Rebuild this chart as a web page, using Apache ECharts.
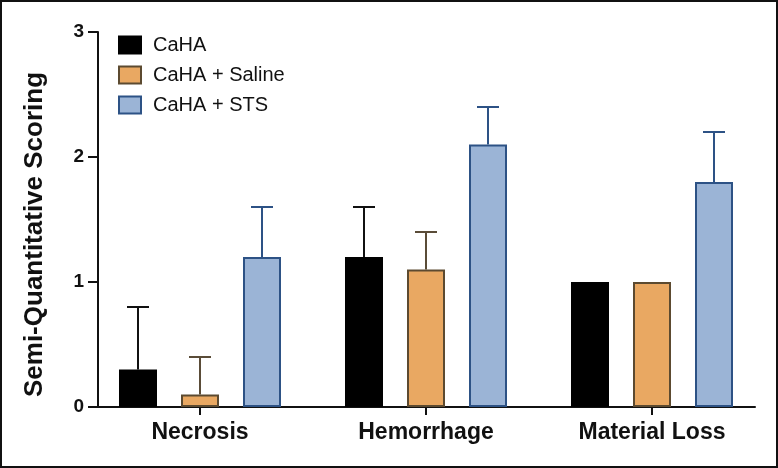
<!DOCTYPE html>
<html>
<head>
<meta charset="utf-8">
<script src="https://cdn.jsdelivr.net/npm/echarts@6/dist/echarts.min.js"></script>
<style>
  html, body { margin: 0; padding: 0; background: #fff; }
  #chart { position: absolute; left: 0; top: 0; width: 778px; height: 468px; }
  #frame { position: absolute; left: 0; top: 0; width: 778px; height: 468px; box-sizing: border-box; border: 2px solid #111; pointer-events: none; }
</style>
</head>
<body>
<div id="chart"></div>
<div id="frame"></div>
<script>
const categories = ['Necrosis', 'Hemorrhage', 'Material Loss'];
const seriesNames = ['CaHA', 'CaHA + Saline', 'CaHA + STS'];
const cahaMean = [0.3, 1.2, 1.0];
const cahaErr = [0.5, 0.4, 0];
const salineMean = [0.1, 1.1, 1.0];
const salineErr = [0.3, 0.3, 0];
const stsMean = [1.2, 2.1, 1.8];
const stsErr = [0.4, 0.3, 0.4];
const yTicks = [0, 1, 2, 3];

const FONT = '"Liberation Sans", Arial, Helvetica, sans-serif';
const fills = ['#000000', '#E9A862', '#9BB4D6'];
const borders = ['#000000', '#5C4A30', '#2D5285'];
const errColors = ['#111111', '#5A4C38', '#2D5285'];
const means = [cahaMean, salineMean, stsMean];
const errs = [cahaErr, salineErr, stsErr];
const BAR_STEP = 62;

const chart = echarts.init(document.getElementById('chart'), null, { renderer: 'canvas' });

const barSeries = seriesNames.map((name, s) => ({
  name: name,
  type: 'bar',
  xAxisIndex: 0,
  yAxisIndex: 0,
  barWidth: 38,
  barGap: '63.16%',
  data: means[s],
  itemStyle: { color: fills[s], borderColor: borders[s], borderWidth: 2 },
  z: 3
}));

const errSeries = seriesNames.map((name, s) => ({
  name: 'err-' + name,
  type: 'custom',
  xAxisIndex: 0,
  yAxisIndex: 0,
  z: 2,
  data: categories.map((c, i) => [i, means[s][i], errs[s][i]]),
  renderItem: function (params, api) {
    const i = api.value(0), m = api.value(1), e = api.value(2);
    if (!e) return null;
    const base = api.coord([i, m]);
    const top = api.coord([i, m + e]);
    const x = base[0] + (s - 1) * BAR_STEP;
    const st = { stroke: errColors[s], lineWidth: 2 };
    return {
      type: 'group',
      children: [
        { type: 'line', shape: { x1: x, y1: base[1], x2: x, y2: top[1] }, style: st },
        { type: 'line', shape: { x1: x - 11, y1: top[1], x2: x + 11, y2: top[1] }, style: st }
      ]
    };
  }
}));

chart.setOption({
  animation: false,
  backgroundColor: 'transparent',
  grid: [
    { left: 87, right: 13, top: 32, bottom: 61 },
    { left: 98, right: 23, top: 32, bottom: 61 }
  ],
  legend: {
    data: seriesNames,
    orient: 'vertical',
    left: 118,
    top: 35,
    padding: 0,
    itemWidth: 22,
    itemHeight: 17,
    itemGap: 10,
    icon: 'rect',
    textStyle: { fontFamily: FONT, fontSize: 20, color: '#111', padding: [0, 0, 0, 7], lineHeight: 18 }
  },
  xAxis: [
    {
      type: 'category',
      gridIndex: 0,
      data: categories,
      axisLine: { show: false },
      axisTick: { show: true, alignWithLabel: true, length: 8, lineStyle: { color: '#111', width: 2 } },
      axisLabel: { fontFamily: FONT, fontSize: 23, fontWeight: 'bold', color: '#111', margin: 14 },
      splitLine: { show: false }
    },
    {
      type: 'value',
      gridIndex: 1,
      min: 0, max: 1,
      axisLine: { show: true, onZero: false, lineStyle: { color: '#111', width: 2 } },
      axisTick: { show: false },
      axisLabel: { show: false },
      splitLine: { show: false }
    }
  ],
  yAxis: [
    { type: 'value', gridIndex: 0, min: 0, max: 3, show: false, splitLine: { show: false } },
    {
      type: 'value',
      gridIndex: 1,
      min: yTicks[0],
      max: yTicks[yTicks.length - 1],
      interval: 1,
      name: 'Semi-Quantitative Scoring',
      nameLocation: 'middle',
      nameGap: 50,
      nameTextStyle: { fontFamily: FONT, fontSize: 26, fontWeight: 'bold', color: '#111', padding: [0, 30, 0, 0] },
      axisLine: { show: true, onZero: false, lineStyle: { color: '#111', width: 2 } },
      axisTick: { show: true, length: 10, lineStyle: { color: '#111', width: 2 } },
      axisLabel: { fontFamily: FONT, fontSize: 19, fontWeight: 'bold', color: '#111', margin: 14 },
      splitLine: { show: false }
    }
  ],
  series: barSeries.concat(errSeries)
});
</script>
</body>
</html>
